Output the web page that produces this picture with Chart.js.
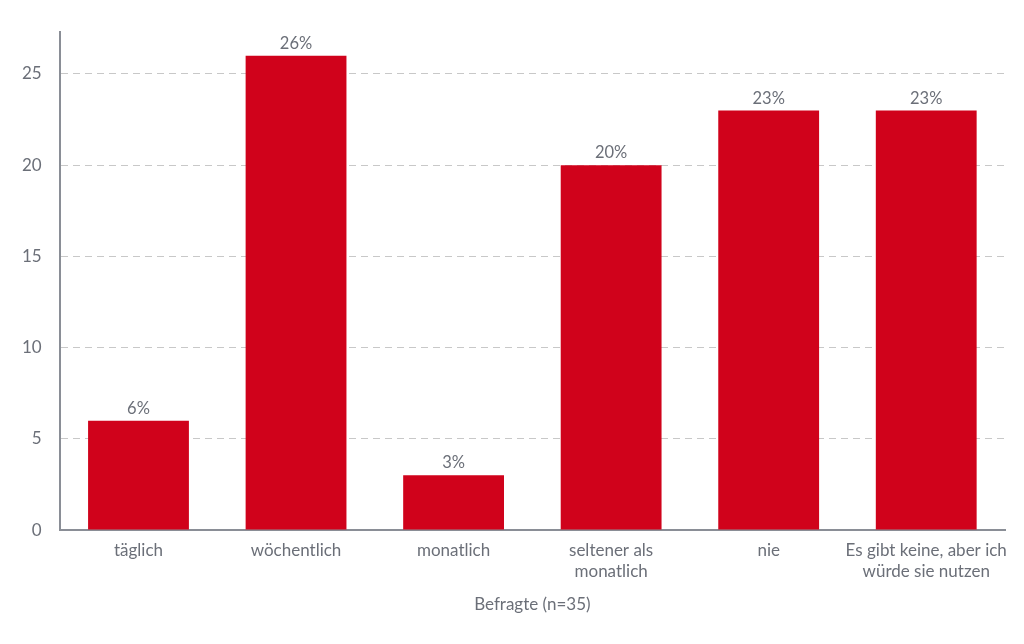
<!DOCTYPE html>
<html>
<head>
<meta charset="utf-8">
<script src="https://cdn.jsdelivr.net/npm/chart.js@4.4.1/dist/chart.umd.min.js"></script>
<style>
    html, body { margin: 0; padding: 0; background: #fff; }
    #wrap { width: 1024px; height: 644px; }
</style>
</head>
<body>
<div id="wrap"><canvas id="myChart" width="1024" height="644"></canvas></div>
<script>
const categories = [
    'täglich',
    'wöchentlich',
    'monatlich',
    ['seltener als', 'monatlich'],
    'nie',
    ['Es gibt keine, aber ich', 'würde sie nutzen']
];
const percentValues = [6, 26, 3, 20, 23, 23];
const yTicks = [0, 5, 10, 15, 20, 25];
const axisTitle = 'Befragte (n=35)';

const textColor = '#6b6f78';

// Prozentwerte über die Balken schreiben
const barLabels = {
    id: 'barLabels',
    afterDatasetsDraw(chart) {
        const ctx = chart.ctx;
        const meta = chart.getDatasetMeta(0);
        ctx.save();
        ctx.font = '16.5px Lato';
        ctx.fillStyle = textColor;
        ctx.textAlign = 'center';
        ctx.textBaseline = 'bottom';
        meta.data.forEach((bar, i) => {
            ctx.fillText(percentValues[i] + '%', bar.x, bar.y - 4);
        });
        ctx.restore();
    }
};

const ctx = document.getElementById('myChart').getContext('2d');
const chart = new Chart(ctx, {
    type: 'bar',
    data: {
        labels: categories,
        datasets: [{
            data: percentValues,
            backgroundColor: '#d0021b',
            categoryPercentage: 0.64,
            barPercentage: 1.0
        }]
    },
    options: {
        responsive: false,
        animation: false,
        layout: { padding: { top: 32, right: 19, left: 4, bottom: 29 } },
        plugins: {
            legend: { display: false },
            tooltip: { enabled: false }
        },
        scales: {
            x: {
                grid: { display: false, drawTicks: false },
                border: { color: '#8a8e96', width: 2 },
                ticks: {
                    color: textColor,
                    font: { family: 'Lato', size: 17, lineHeight: 1.25 },
                    padding: 10,
                    maxRotation: 0,
                    autoSkip: false
                },
                title: {
                    display: true,
                    text: axisTitle,
                    color: textColor,
                    font: { family: 'Lato', size: 17 },
                    padding: { top: 2, bottom: 0 }
                }
            },
            y: {
                min: 0,
                max: 27.3,
                afterBuildTicks: scale => {
                    scale.ticks = yTicks.map(v => ({ value: v }));
                },
                grid: {
                    color: '#c8c8c8',
                    drawTicks: false,
                    lineWidth: 1
                },
                border: { color: '#8a8e96', width: 2, dash: [7, 5] },
                ticks: {
                    color: textColor,
                    font: { family: 'Lato', size: 17 },
                    padding: 18
                }
            }
        }
    },
    plugins: [barLabels]
});
</script>
</body>
</html>
